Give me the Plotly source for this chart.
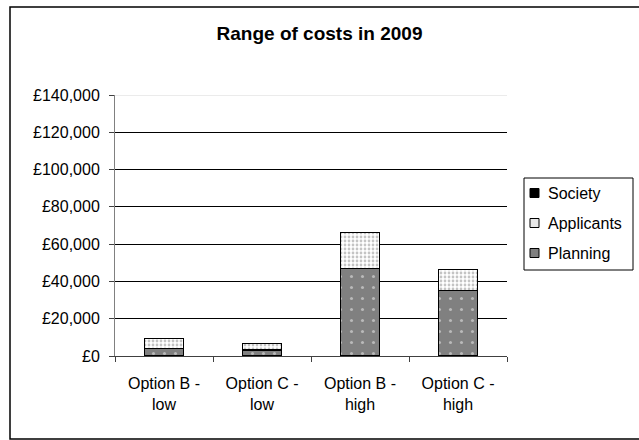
import plotly.graph_objects as go

# Cost ranges (GBP) by option and scenario
categories = ["Option B -<br>low", "Option C -<br>low", "Option B -<br>high", "Option C -<br>high"]
planning = [4200, 3200, 47000, 35200]
applicants = [5300, 3600, 19100, 11100]
society = [0, 0, 0, 0]

tick_vals = [0, 20000, 40000, 60000, 80000, 100000, 120000, 140000]
tick_text = ["£0", "£20,000", "£40,000", "£60,000", "£80,000", "£100,000", "£120,000", "£140,000"]

legend_names = ["Society", "Applicants", "Planning"]
legend_fill = ["black", "#e8e8e8", "#808080"]

W, H = 639, 440
L, R, T, B = 115, 132, 95, 84
pw, ph = W - L - R, H - T - B

def px_to_paper_x(px):
    return (px - L) / pw

def px_to_paper_y(py):
    return (H - B - py) / ph

font = "Liberation Sans, Arial, sans-serif"
edge = dict(color="black", width=1.3)

fig = go.Figure()
fig.add_trace(go.Bar(
    x=categories, y=planning, name="Planning",
    marker=dict(color="#808080", line=edge,
                pattern=dict(shape=".", fgcolor="#f4f4f4", bgcolor="#808080",
                             size=11, solidity=0.06)),
))
fig.add_trace(go.Bar(
    x=categories, y=applicants, name="Applicants",
    marker=dict(color="white", line=edge,
                pattern=dict(shape=".", fgcolor="#8a8a8a", bgcolor="white",
                             size=4, solidity=0.38)),
))
fig.add_trace(go.Bar(
    x=categories, y=society, name="Society",
    marker=dict(color="black", line=edge),
))

fig.update_layout(
    width=W, height=H,
    margin=dict(l=L, r=R, t=T, b=B),
    barmode="stack", bargap=0.6,
    paper_bgcolor="white", plot_bgcolor="white",
    font=dict(family=font, size=16, color="black"),
    title=dict(text="<b>Range of costs in 2009</b>", x=0.5, y=1 - 33 / H,
               xanchor="center", yanchor="middle",
               font=dict(family=font, size=19, color="black")),
    showlegend=False,
)

fig.update_xaxes(
    showline=True, linecolor="#404040", linewidth=1,
    ticks="outside", tickson="boundaries", ticklen=5, tickcolor="#404040",
    showgrid=False, tickfont=dict(size=16), ticklabelstandoff=13,
)
fig.update_yaxes(
    range=[0, 140000], tickvals=tick_vals, ticktext=tick_text,
    showline=True, linecolor="#808080", linewidth=1,
    ticks="outside", ticklen=5, tickcolor="#404040",
    showgrid=True, gridcolor="black", gridwidth=1,
    zeroline=False, ticklabelstandoff=6, tickfont=dict(size=16),
)

# light top edge of the plot area, drawn over the top gridline
fig.add_shape(type="line", xref="paper", yref="y", x0=0, x1=1, y0=140000, y1=140000,
              line=dict(color="#d8d8d8", width=1), layer="above")

# legend box with swatches and labels
fig.add_shape(type="rect", xref="paper", yref="paper",
              x0=px_to_paper_x(524), x1=px_to_paper_x(633),
              y0=px_to_paper_y(270), y1=px_to_paper_y(178),
              line=dict(color="black", width=1), fillcolor="white")
for i, (name, fill) in enumerate(zip(legend_names, legend_fill)):
    cy = 193 + 30 * i
    fig.add_shape(type="rect", xref="paper", yref="paper",
                  x0=px_to_paper_x(530), x1=px_to_paper_x(539),
                  y0=px_to_paper_y(cy + 4.5), y1=px_to_paper_y(cy - 4.5),
                  line=dict(color="black", width=1), fillcolor=fill)
    fig.add_annotation(xref="paper", yref="paper",
                       x=px_to_paper_x(546), y=px_to_paper_y(cy),
                       text=name, showarrow=False, xanchor="left", yanchor="middle",
                       font=dict(family=font, size=16, color="black"))

# outer chart frame
fig.add_shape(type="rect", xref="paper", yref="paper",
              x0=px_to_paper_x(10), x1=px_to_paper_x(645),
              y0=px_to_paper_y(439), y1=px_to_paper_y(7),
              line=dict(color="black", width=1.5), fillcolor="rgba(0,0,0,0)",
              layer="above")

fig.write_html("out.html")
